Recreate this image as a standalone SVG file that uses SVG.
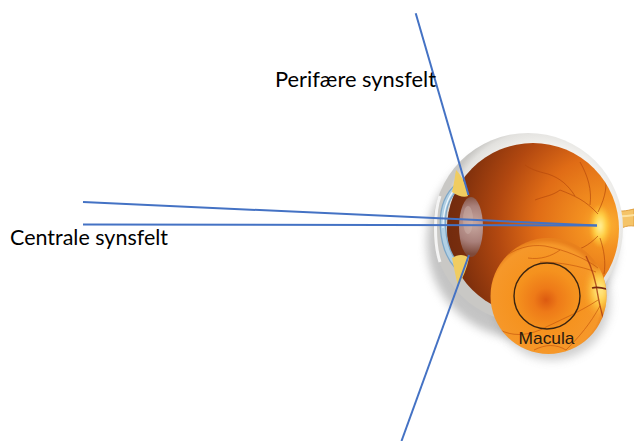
<svg xmlns="http://www.w3.org/2000/svg" width="634" height="441" viewBox="0 0 634 441">
<style>
.lbl{font-family:Lato,"Open Sans","Liberation Sans",sans-serif;font-size:21px;fill:#000}
.mac{font-family:"Liberation Sans",Arial,sans-serif;font-size:17px;fill:#2a1a0e}
.ray{stroke:#4472C4;stroke-width:2;fill:none}
.ves{fill:none;stroke:#b4470c;stroke-width:0.9;opacity:0.75}
.fves{fill:none;stroke:#c85a10;stroke-width:0.9;opacity:0.8}
</style>
<defs>
  <filter id="blur5" x="-30%" y="-30%" width="160%" height="160%"><feGaussianBlur stdDeviation="5"/></filter>
  <filter id="blur3" x="-50%" y="-50%" width="200%" height="200%"><feGaussianBlur stdDeviation="3"/></filter>
  <filter id="blur1" x="-50%" y="-50%" width="200%" height="200%"><feGaussianBlur stdDeviation="1"/></filter>
  <radialGradient id="sclera" gradientUnits="userSpaceOnUse" cx="540" cy="220" r="96">
    <stop offset="0.75" stop-color="#f6f5f2"/>
    <stop offset="0.93" stop-color="#e2e1de"/>
    <stop offset="1" stop-color="#c9c8c5"/>
  </radialGradient>
  <radialGradient id="interior" gradientUnits="userSpaceOnUse" cx="606" cy="225" r="175">
    <stop offset="0" stop-color="#fcb234"/>
    <stop offset="0.14" stop-color="#f39020"/>
    <stop offset="0.4" stop-color="#e06c16"/>
    <stop offset="0.62" stop-color="#b24810"/>
    <stop offset="0.85" stop-color="#80300c"/>
    <stop offset="1" stop-color="#6a240a"/>
  </radialGradient>
  <radialGradient id="lens" gradientUnits="userSpaceOnUse" cx="474" cy="224" r="30">
    <stop offset="0" stop-color="#c8a8a0"/>
    <stop offset="0.6" stop-color="#a9807a"/>
    <stop offset="1" stop-color="#7e4a3a"/>
  </radialGradient>
  <radialGradient id="fundus" gradientUnits="userSpaceOnUse" cx="546" cy="300" r="60">
    <stop offset="0" stop-color="#dc5a10"/>
    <stop offset="0.2" stop-color="#ee7a18"/>
    <stop offset="0.5" stop-color="#f5921e"/>
    <stop offset="0.92" stop-color="#f6982a"/>
    <stop offset="1" stop-color="#e8801c"/>
  </radialGradient>
  <radialGradient id="disc" cx="0.5" cy="0.5" r="0.5">
    <stop offset="0" stop-color="#fff2a0"/>
    <stop offset="0.5" stop-color="#ffd24a"/>
    <stop offset="1" stop-color="#ffc030" stop-opacity="0"/>
  </radialGradient>
  <clipPath id="fclip"><circle cx="548.5" cy="296" r="58"/></clipPath>
  <clipPath id="iclip"><circle cx="533" cy="229" r="86"/></clipPath>
</defs>

<g id="eye">
  <!-- soft shadow -->
  <ellipse cx="522" cy="242" rx="95" ry="96" fill="#888888" opacity="0.5" filter="url(#blur5)"/>
  <circle cx="552" cy="302" r="58" fill="#888888" opacity="0.4" filter="url(#blur5)"/>
  <!-- optic nerve -->
  <path d="M612,210 C620,212 626,211 634,209 L634,226 C626,225 620,228 612,234 Z" fill="#f5c468" stroke="#e0a040" stroke-width="1"/>
  <path d="M616,216 C623,217 628,216 634,215" fill="none" stroke="#fde2a0" stroke-width="2"/>
  <!-- globe -->
  <circle cx="528" cy="228" r="95" fill="url(#sclera)"/>
  <!-- interior -->
  <circle cx="533" cy="229" r="86" fill="url(#interior)"/>
  <g clip-path="url(#iclip)">
    <ellipse cx="600" cy="226" rx="11" ry="22" fill="url(#disc)" filter="url(#blur1)"/>
    <path class="ves" d="M598,214 C585,200 575,196 560,190 M575,196 C568,185 560,178 548,174 M590,205 C592,190 588,176 580,162 M598,212 C606,196 608,184 604,170 M560,190 C552,196 545,196 535,200 M598,236 C588,246 580,250 568,252 M600,238 C604,250 606,262 604,274 M548,174 C540,172 532,170 525,165"/>
    <path d="M447,180 C462,186 470,200 472,228 C470,256 462,270 447,278 L440,278 L440,180 Z" fill="#6e2a10" opacity="0.5"/>
  </g>
  <!-- sclera rim highlight at front -->
  <path d="M440,196 C434,212 434,244 440,262" fill="none" stroke="#ffffff" stroke-width="3" opacity="0.8"/>
  <!-- cornea -->
  <path d="M458,186 C446,196 442,212 443,228 C444,244 448,256 457,266" fill="none" stroke="#7fa8c8" stroke-width="6.5"/>
  <path d="M458,186 C446,196 442,212 443,228 C444,244 448,256 457,266" fill="none" stroke="#b2d0e4" stroke-width="4"/>
  <path d="M455,189 C446,199 443,214 443,228" fill="none" stroke="#eef6fb" stroke-width="1.2"/>
  <!-- ciliary / iris -->
  <path d="M456,170 C462,176 466,184 468,196 C464,198 458,196 452,192 C454,184 455,176 456,170 Z" fill="#f0cc60"/>
  <path d="M452,258 C458,254 464,254 469,258 C467,268 463,278 458,286 C456,278 454,268 452,258 Z" fill="#f0cc60"/>
  <!-- lens -->
  <ellipse cx="471" cy="227" rx="12" ry="30" fill="url(#lens)"/>
  <ellipse cx="468" cy="220" rx="5" ry="14" fill="#d8c0b8" opacity="0.35"/>
  <!-- fundus view -->
  <circle cx="548.5" cy="296" r="58" fill="url(#fundus)"/>
  <g clip-path="url(#fclip)">
    <ellipse cx="600" cy="290" rx="14" ry="26" fill="url(#disc)" filter="url(#blur3)"/>
    <path class="fves" d="M598,268 C585,258 565,250 545,246 M596,272 C580,266 560,262 540,262 M598,300 C580,312 560,320 540,330 M600,306 C590,324 580,336 566,350 M560,250 C552,256 540,260 528,258 M545,246 C530,244 515,248 500,260 M540,330 C525,336 512,336 500,330 M566,350 C556,344 546,344 534,350"/>
    <path d="M586,256 C592,268 596,282 598,296 C600,308 604,320 606,330" fill="none" stroke="#a83a10" stroke-width="1.4" opacity="0.8"/>
    <path d="M592,288 C598,286 604,288 610,290" fill="none" stroke="#7a2a10" stroke-width="1.6"/>
  </g>
  <circle cx="547" cy="296" r="33" fill="none" stroke="#3a2410" stroke-width="1.4"/>
  <text class="mac" x="518.5" y="343.5" textLength="56" lengthAdjust="spacingAndGlyphs">Macula</text>
</g>

<g id="connectors">
  <line class="ray" x1="415.7" y1="13.3" x2="468.5" y2="195"/>
  <line class="ray" x1="469" y1="255" x2="401.5" y2="441"/>
  <line class="ray" x1="83" y1="202" x2="597" y2="225.5"/>
  <line class="ray" x1="83" y1="224.5" x2="597" y2="225.5"/>
</g>

<g id="label-perifaere">
  <text class="lbl" x="275" y="87" textLength="161" lengthAdjust="spacingAndGlyphs">Perifære synsfelt</text>
</g>
<g id="label-centrale">
  <text class="lbl" x="10" y="244.5" textLength="158" lengthAdjust="spacingAndGlyphs">Centrale synsfelt</text>
</g>
</svg>
